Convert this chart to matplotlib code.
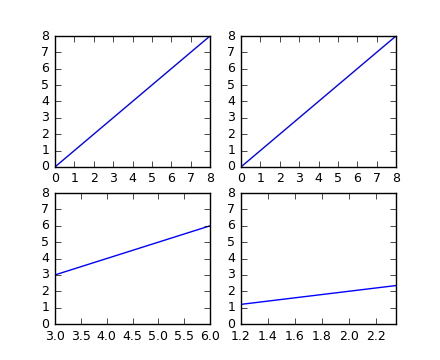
import matplotlib
matplotlib.use('Agg')
import matplotlib.pyplot as plt

plt.style.use('classic')
plt.rcParams['font.size'] = 9
plt.rcParams['xtick.labelsize'] = 9
plt.rcParams['ytick.labelsize'] = 9

# data for the four panels
x_tl = [0, 8]
y_tl = [0, 8]
x_tr = [0, 8]
y_tr = [0, 8]
x_bl = [3.0, 6.0]
y_bl = [3.0, 6.0]
x_br = [1.2, 2.35]
y_br = [1.2, 2.35]

fig, axes = plt.subplots(2, 2, figsize=(4.4, 3.6), dpi=100)

axes[0, 0].plot(x_tl, y_tl)
axes[0, 0].set_xlim(0, 8)
axes[0, 0].set_ylim(0, 8)

axes[0, 1].plot(x_tr, y_tr)
axes[0, 1].set_xlim(0, 8)
axes[0, 1].set_ylim(0, 8)

axes[1, 0].plot(x_bl, y_bl)
axes[1, 0].set_xlim(3, 6)
axes[1, 0].set_ylim(0, 8)

axes[1, 1].plot(x_br, y_br)
axes[1, 1].set_xlim(1.2, 2.35)
axes[1, 1].set_ylim(0, 8)

fig.savefig('out.png', dpi=100)
